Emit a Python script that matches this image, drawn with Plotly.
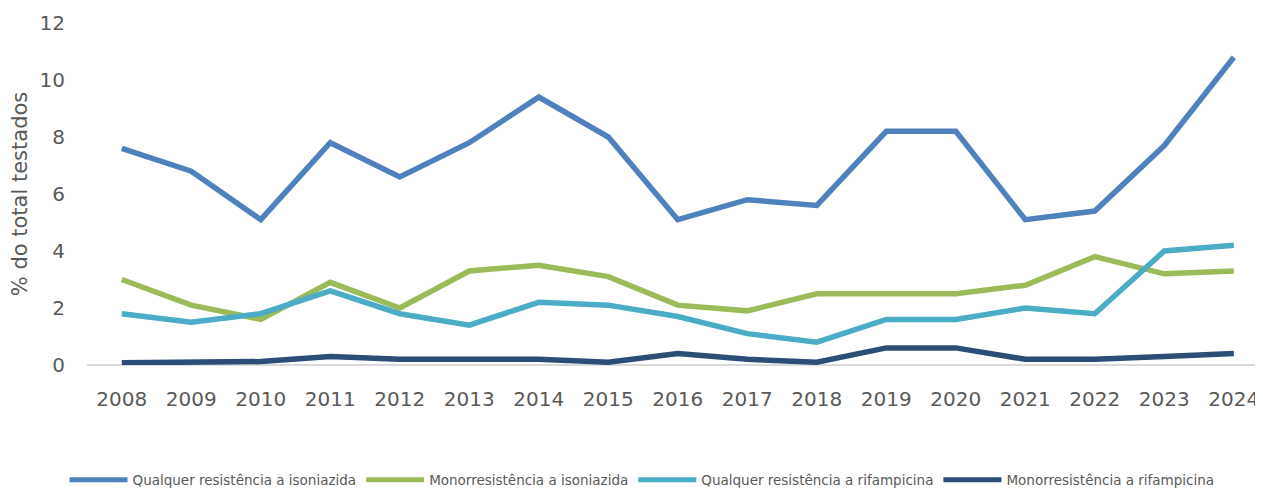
import plotly.graph_objects as go

years = [str(y) for y in range(2008, 2025)]
qual_iso = [7.6, 6.8, 5.1, 7.8, 6.6, 7.8, 9.4, 8.0, 5.1, 5.8, 5.6, 8.2, 8.2, 5.1, 5.4, 7.7, 10.8]
mono_iso = [3.0, 2.1, 1.6, 2.9, 2.0, 3.3, 3.5, 3.1, 2.1, 1.9, 2.5, 2.5, 2.5, 2.8, 3.8, 3.2, 3.3]
qual_rif = [1.8, 1.5, 1.8, 2.6, 1.8, 1.4, 2.2, 2.1, 1.7, 1.1, 0.8, 1.6, 1.6, 2.0, 1.8, 4.0, 4.2]
mono_rif = [0.08, 0.08, 0.12, 0.3, 0.2, 0.2, 0.2, 0.1, 0.4, 0.2, 0.1, 0.6, 0.6, 0.2, 0.2, 0.3, 0.4]
names = ["Qualquer resistência a isoniazida", "Monorresistência a isoniazida",
         "Qualquer resistência a rifampicina", "Monorresistência a rifampicina"]
colors = ["#4f81bd", "#9bbb59", "#4bacc6", "#2c4d75"]
ytick_vals = [0, 2, 4, 6, 8, 10, 12]

fig = go.Figure()
for name, vals, c in zip(names, [qual_iso, mono_iso, qual_rif, mono_rif], colors):
    fig.add_trace(go.Scatter(x=years, y=vals, name=name, mode="lines",
                             line=dict(color=c, width=5.5, shape="linear"),
                             hoverinfo="x+y+name"))

# page body has an 8px margin, so the figure is sized 8px smaller each way
W, H = 1255, 480
font_fam = "'DejaVu Sans', sans-serif"
fig.update_layout(
    width=W, height=H,
    margin=dict(l=79, r=0, t=15, b=123, autoexpand=False),
    plot_bgcolor="white", paper_bgcolor="white",
    font=dict(family=font_fam, color="#595959"),
    showlegend=True,
    legend=dict(orientation="h", x=(642 - 8) / W, xanchor="center", xref="container",
                y=(H - 472) / H, yanchor="middle", yref="container",
                font=dict(size=13.5, color="#595959"),
                itemwidth=58, tracegroupgap=0, itemsizing="constant"),
    xaxis=dict(type="category", range=[-0.5, 16.42], showgrid=False, showline=False,
               zeroline=False, ticks="", tickfont=dict(size=20, color="#595959"),
               ticklabelstandoff=20, fixedrange=True, automargin=False),
    yaxis=dict(range=[0, 12], tickvals=ytick_vals, showgrid=False, zeroline=True,
               zerolinecolor="#d9d9d9", zerolinewidth=1.5, showline=False, ticks="",
               tickfont=dict(size=20, color="#595959"), ticklabelstandoff=21,
               title=dict(text="% do total testados", font=dict(size=21, color="#595959"), standoff=11),
               fixedrange=True, automargin=False),
)
fig.write_html("out.html")
